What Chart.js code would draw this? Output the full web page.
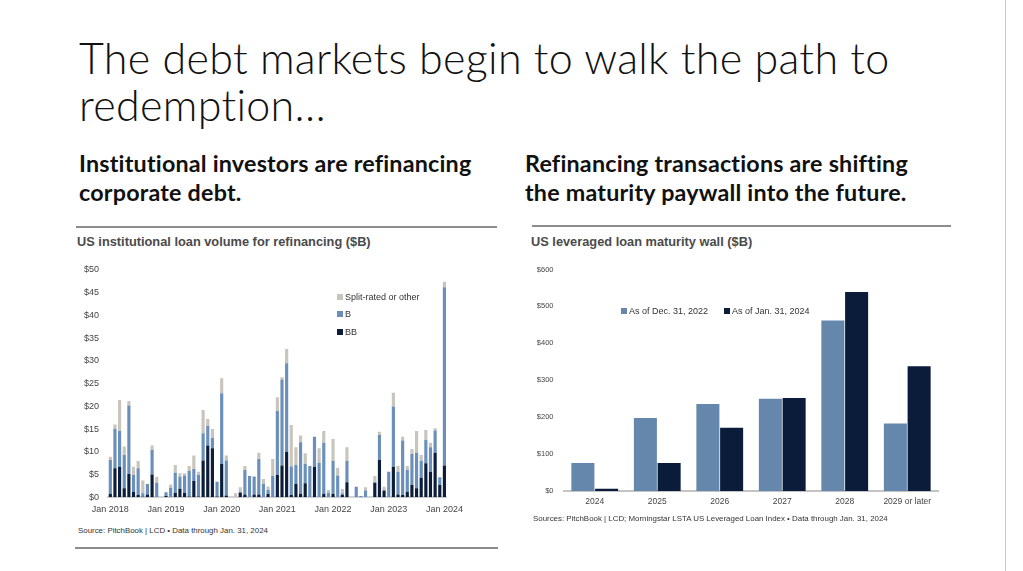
<!DOCTYPE html>
<html>
<head>
<meta charset="utf-8">
<script src="https://cdn.jsdelivr.net/npm/chart.js@4.4.1/dist/chart.umd.min.js"></script>
<style>
  html, body { margin: 0; padding: 0; background: #fff; }
  body { width: 1023px; height: 571px; position: relative; overflow: hidden; font-family: Lato, "Open Sans", sans-serif; }
  .abs { position: absolute; }
  #title { left: 79px; top: 34px; font-size: 43px; letter-spacing: 0.3px; font-weight: 300; line-height: 47px; color: #111; white-space: nowrap; }
  .sub { top: 149px; font-size: 23.3px; letter-spacing: 0.2px; font-weight: 700; line-height: 29px; color: #111; white-space: nowrap; }
  .rule { height: 2px; background: #8c8c8c; }
  .ctitle { top: 234px; font-family: "Liberation Sans", Arial, sans-serif; font-weight: 700; font-size: 12.8px; color: #4a4a4a; white-space: nowrap; }
  .src { font-family: "Liberation Sans", Arial, sans-serif; font-size: 7.9px; color: #333; white-space: nowrap; }
  .leg { font-family: "Liberation Sans", Arial, sans-serif; font-size: 9px; color: #333; white-space: nowrap; line-height: 11px; }
  .sq { display: inline-block; width: 6px; height: 6px; margin-right: 2px; vertical-align: 0px; }
</style>
</head>
<body>
<div id="title" class="abs">The debt markets begin to walk the path to<br>redemption…</div>
<div class="abs sub" style="left:79px">Institutional investors are refinancing<br>corporate debt.</div>
<div class="abs sub" style="left:525px">Refinancing transactions are shifting<br>the maturity paywall into the future.</div>

<div class="abs rule" style="left:76px; top:226px; width:421px"></div>
<div class="abs rule" style="left:532px; top:225px; width:419px"></div>
<div class="abs rule" style="left:75px; top:547px; width:423px"></div>
<div class="abs" style="left:1005px; top:0; width:1px; height:571px; background:#c8c8c8"></div>

<div class="abs ctitle" style="left:77px">US institutional loan volume for refinancing ($B)</div>
<div class="abs ctitle" style="left:531px">US leveraged loan maturity wall ($B)</div>

<div class="abs" style="left:70px; top:255px; width:400px; height:270px"><canvas id="left"></canvas></div>
<div class="abs" style="left:520px; top:255px; width:430px; height:260px"><canvas id="right"></canvas></div>

<div class="abs leg" style="left:337px; top:292px"><span class="sq" style="background:#c9c5bd"></span>Split-rated or other</div>
<div class="abs leg" style="left:337px; top:309px"><span class="sq" style="background:#6a8fba"></span>B</div>
<div class="abs leg" style="left:337px; top:327px"><span class="sq" style="background:#0b1d3a"></span>BB</div>

<div class="abs leg" style="left:621px; top:306px"><span class="sq" style="background:#6587ab"></span>As of Dec. 31, 2022</div>
<div class="abs leg" style="left:724px; top:306px"><span class="sq" style="background:#0a1c3a"></span>As of Jan. 31, 2024</div>

<div class="abs src" style="left:78px; top:526px">Source: PitchBook | LCD • Data through Jan. 31, 2024</div>
<div class="abs src" style="left:533px; top:514px">Sources: PitchBook | LCD; Morningstar LSTA US Leveraged Loan Index • Data through Jan. 31, 2024</div>

<script>
// Left chart: monthly refinancing volume, Jan 2018 - Jan 2024 ($B)
const years = [2018, 2019, 2020, 2021, 2022, 2023];
const monthNames = ['Jan', 'Feb', 'Mar', 'Apr', 'May', 'Jun', 'Jul', 'Aug', 'Sep', 'Oct', 'Nov', 'Dec'];
const months = [];
years.forEach(y => monthNames.forEach(m => months.push(m + ' ' + y)));
months.push('Jan 2024');

const bbVol = [
    0.8, 6.4, 6.7, 2.0, 5.1, 1.2, 0.5, 0.1, 0.6, 5.0, 0, 0,
    0.3, 0, 1.0, 1.9, 1.0, 0.2, 3.6, 0.2, 8.1, 11.4, 10.8, 0.2,
    7.4, 0.4, 0, 0, 1.0, 0.6, 0, 0.6, 0.6, 0, 0.7, 0,
    4.9, 7.0, 10.0, 0.5, 2.9, 0.8, 3.1, 0, 6.7, 0, 0.8, 0,
    0.8, 0, 0.5, 3.3, 0, 0, 0, 0, 0, 3.2, 8.2, 1.5,
    0, 6.7, 0.6, 0.5, 1.2, 2.7, 2.0, 4.3, 7.5, 5.6, 9.8, 2.7,
    7.0
];
const bVol = [
    7.4, 8.7, 7.9, 7.3, 15.1, 3.7, 5.9, 0.8, 2.3, 5.4, 3.2, 0,
    0.8, 2.1, 4.4, 2.6, 3.8, 5.6, 2.6, 4.7, 6.0, 4.3, 2.3, 3.2,
    15.5, 7.7, 0, 0, 0.2, 5.4, 4.7, 4.0, 7.8, 2.9, 0.9, 4.7,
    14.1, 18.9, 19.5, 6.3, 4.2, 11.3, 4.3, 6.9, 6.6, 7.6, 11.2, 1.0,
    7.2, 4.8, 0.4, 4.7, 0, 2.3, 0.3, 1.5, 0, 0.1, 5.5, 0,
    5.6, 13.3, 5.0, 12.0, 4.8, 6.8, 7.8, 3.7, 5.1, 5.4, 4.9, 1.7,
    39.2
];
const otherVol = [
    0.7, 0.9, 6.8, 1.9, 1.0, 1.8, 1.6, 2.8, 0, 1.0, 1.3, 0,
    0, 0.7, 1.7, 0.8, 0.5, 1.1, 3.0, 0.7, 5.1, 1.5, 1.9, 0,
    3.3, 1.1, 0, 0.9, 1.0, 0.9, 0, 0, 1.4, 1.1, 0.8, 3.7,
    3.0, 0.5, 3.1, 9.1, 3.9, 1.5, 2.3, 0, 0, 3.2, 2.6, 0.6,
    4.8, 1.7, 0.9, 3.0, 0, 0, 0, 0.7, 0, 1.4, 0.7, 0.8,
    0, 3.0, 1.3, 0.8, 0.9, 1.1, 4.8, 1.3, 2.2, 1.0, 0.5, 0,
    1.2
];

// Right chart: maturity wall ($B)
const maturityYears = ['2024', '2025', '2026', '2027', '2028', '2029 or later'];
const asOfDec2022 = [76, 198, 236, 250, 462, 183];
const asOfJan2024 = [6, 76, 171, 252, 539, 338];

const tickFont = { family: 'Liberation Sans, Arial, sans-serif', size: 9 };

const leftChart = new Chart(document.getElementById('left'), {
    type: 'bar',
    data: {
        labels: months,
        datasets: [
            { label: 'BB', data: bbVol, backgroundColor: '#0b1d3a' },
            { label: 'B', data: bVol, backgroundColor: '#6a8fba' },
            { label: 'Split-rated or other', data: otherVol, backgroundColor: '#c9c5bd' }
        ]
    },
    options: {
        responsive: true,
        maintainAspectRatio: false,
        animation: false,
        layout: { padding: { top: 15, right: 11.3, left: 0, bottom: 0 } },
        datasets: { bar: { categoryPercentage: 1, barPercentage: 0.68 } },
        plugins: { legend: { display: false }, tooltip: { enabled: false } },
        scales: {
            x: {
                stacked: true,
                grid: { display: false, drawTicks: false },
                border: { display: true, color: '#d4d4d4', width: 2 },
                ticks: {
                    autoSkip: false,
                    maxRotation: 0,
                    padding: 7,
                    color: '#444',
                    font: tickFont,
                    callback: function (value, index) {
                        return index % 12 === 0 ? months[index] : '';
                    }
                },
                afterFit: function (scale) { scale.height = 27.7; }
            },
            y: {
                stacked: true,
                min: 0,
                max: 50,
                grid: { display: false, drawTicks: false },
                border: { display: false },
                ticks: {
                    stepSize: 5,
                    padding: 9,
                    color: '#444',
                    font: tickFont,
                    callback: v => '$' + v
                },
                afterFit: function (scale) { scale.width = 38; }
            }
        }
    }
});

const rightChart = new Chart(document.getElementById('right'), {
    type: 'bar',
    data: {
        labels: maturityYears,
        datasets: [
            { label: 'As of Dec. 31, 2022', data: asOfDec2022, backgroundColor: '#6587ab' },
            { label: 'As of Jan. 31, 2024', data: asOfJan2024, backgroundColor: '#0a1c3a' }
        ]
    },
    options: {
        responsive: true,
        maintainAspectRatio: false,
        animation: false,
        layout: { padding: { top: 11, right: 11.5, left: 0, bottom: 0 } },
        datasets: { bar: { categoryPercentage: 0.76, barPercentage: 0.97 } },
        plugins: { legend: { display: false }, tooltip: { enabled: false } },
        scales: {
            x: {
                grid: { display: false, drawTicks: false },
                border: { display: true, color: '#c4c4c4', width: 2 },
                ticks: { maxRotation: 0, padding: 6, color: '#444', font: { family: tickFont.family, size: 8.5 } },
                afterFit: function (scale) { scale.height = 24; }
            },
            y: {
                min: 0,
                max: 600,
                grid: { display: false, drawTicks: false },
                border: { display: false },
                ticks: {
                    stepSize: 100,
                    padding: 10,
                    color: '#444',
                    font: { family: tickFont.family, size: 7.5 },
                    callback: v => '$' + v
                },
                afterFit: function (scale) { scale.width = 43.5; }
            }
        }
    }
});
</script>
</body>
</html>
